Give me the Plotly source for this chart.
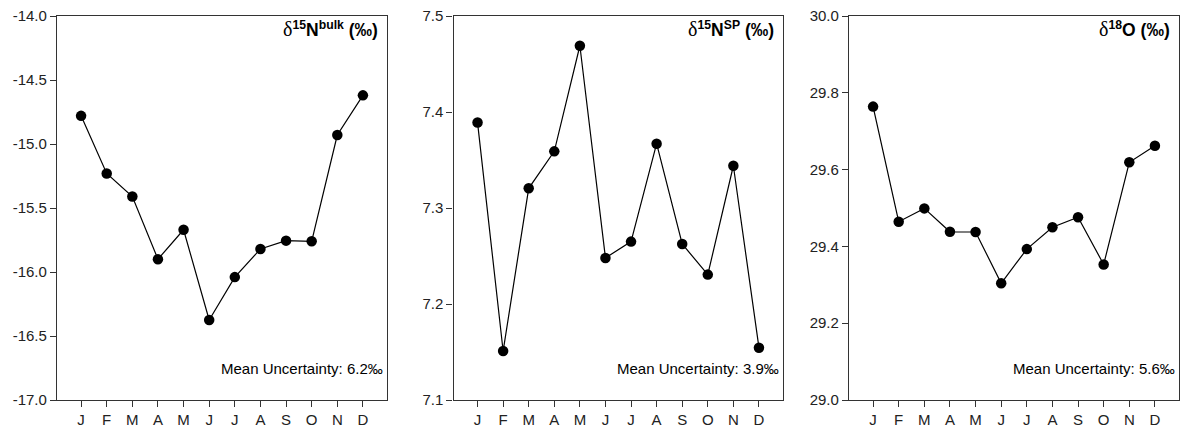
import plotly.graph_objects as go

months = ["J", "F", "M", "A", "M", "J", "J", "A", "S", "O", "N", "D"]
month_pos = list(range(1, 13))

n15_bulk = [-14.78, -15.23, -15.41, -15.90, -15.67, -16.375, -16.04, -15.82, -15.755, -15.76, -14.93, -14.62]
n15_sp = [7.389, 7.151, 7.3205, 7.359, 7.469, 7.248, 7.265, 7.367, 7.2625, 7.2306, 7.344, 7.1545]
o18 = [29.764, 29.4644, 29.499, 29.438, 29.4375, 29.304, 29.393, 29.45, 29.476, 29.353, 29.619, 29.662]

delta = "<span style='font-family:Liberation Serif;font-size:20px'>δ</span>"
titles = [
    delta + "<b><sup>15</sup>N<sup>bulk</sup> (‰)</b>",
    delta + "<b><sup>15</sup>N<sup>SP</sup> (‰)</b>",
    delta + "<b><sup>18</sup>O (‰)</b>",
]
uncert = ["Mean Uncertainty: 6.2‰", "Mean Uncertainty: 3.9‰", "Mean Uncertainty: 5.6‰"]
y_ranges = [[-17.0, -14.0], [7.1, 7.5], [29.0, 30.0]]
y_ticks = [
    [-17.0, -16.5, -16.0, -15.5, -15.0, -14.5, -14.0],
    [7.1, 7.2, 7.3, 7.4, 7.5],
    [29.0, 29.2, 29.4, 29.6, 29.8, 30.0],
]
series = [n15_bulk, n15_sp, o18]

W, H = 1187, 430
x_domains_px = [(57, 387), (453.5, 783), (849, 1179)]
y_dom = [1 - 400 / H, 1 - 16 / H]

fig = go.Figure()
font_family = "Arial, Liberation Sans, sans-serif"

for i in range(3):
    xa = "x" if i == 0 else f"x{i+1}"
    ya = "y" if i == 0 else f"y{i+1}"
    fig.add_trace(go.Scatter(
        x=month_pos, y=series[i], mode="lines+markers",
        line=dict(color="black", width=1.2),
        marker=dict(color="black", size=10.5),
        xaxis=xa, yaxis=ya, showlegend=False,
    ))
    xd = [x_domains_px[i][0] / W, x_domains_px[i][1] / W]
    axis_common = dict(
        showline=True, linecolor="#333333", linewidth=1.3, mirror=True,
        ticks="outside", ticklen=6, tickcolor="#333333", tickwidth=1,
        showgrid=False, zeroline=False, automargin=False,
        tickfont=dict(family=font_family, size=15, color="#222222"),
    )
    fig.update_layout(**{
        ("xaxis" if i == 0 else f"xaxis{i+1}"): dict(
            domain=xd, anchor=ya, range=[0.06, 12.94],
            tickvals=month_pos, ticktext=months, **axis_common),
        ("yaxis" if i == 0 else f"yaxis{i+1}"): dict(
            domain=y_dom, anchor=xa, range=y_ranges[i],
            tickvals=y_ticks[i], ticktext=[f"{v:.1f}" for v in y_ticks[i]],
            **axis_common),
    })
    fig.add_annotation(
        text=titles[i], xref=f"{xa} domain", yref=f"{ya} domain",
        x=0.978, y=1.0, xanchor="right", yanchor="top", showarrow=False,
        font=dict(family=font_family, size=17.5, color="black"),
    )
    fig.add_annotation(
        text=uncert[i], xref=f"{xa} domain", yref=f"{ya} domain",
        x=0.995, y=0.055, xanchor="right", yanchor="bottom", showarrow=False,
        font=dict(family=font_family, size=15, color="black"),
    )

fig.update_layout(
    width=W, height=H, margin=dict(l=0, r=0, t=0, b=0),
    paper_bgcolor="white", plot_bgcolor="white",
)
fig.write_html("out.html")
